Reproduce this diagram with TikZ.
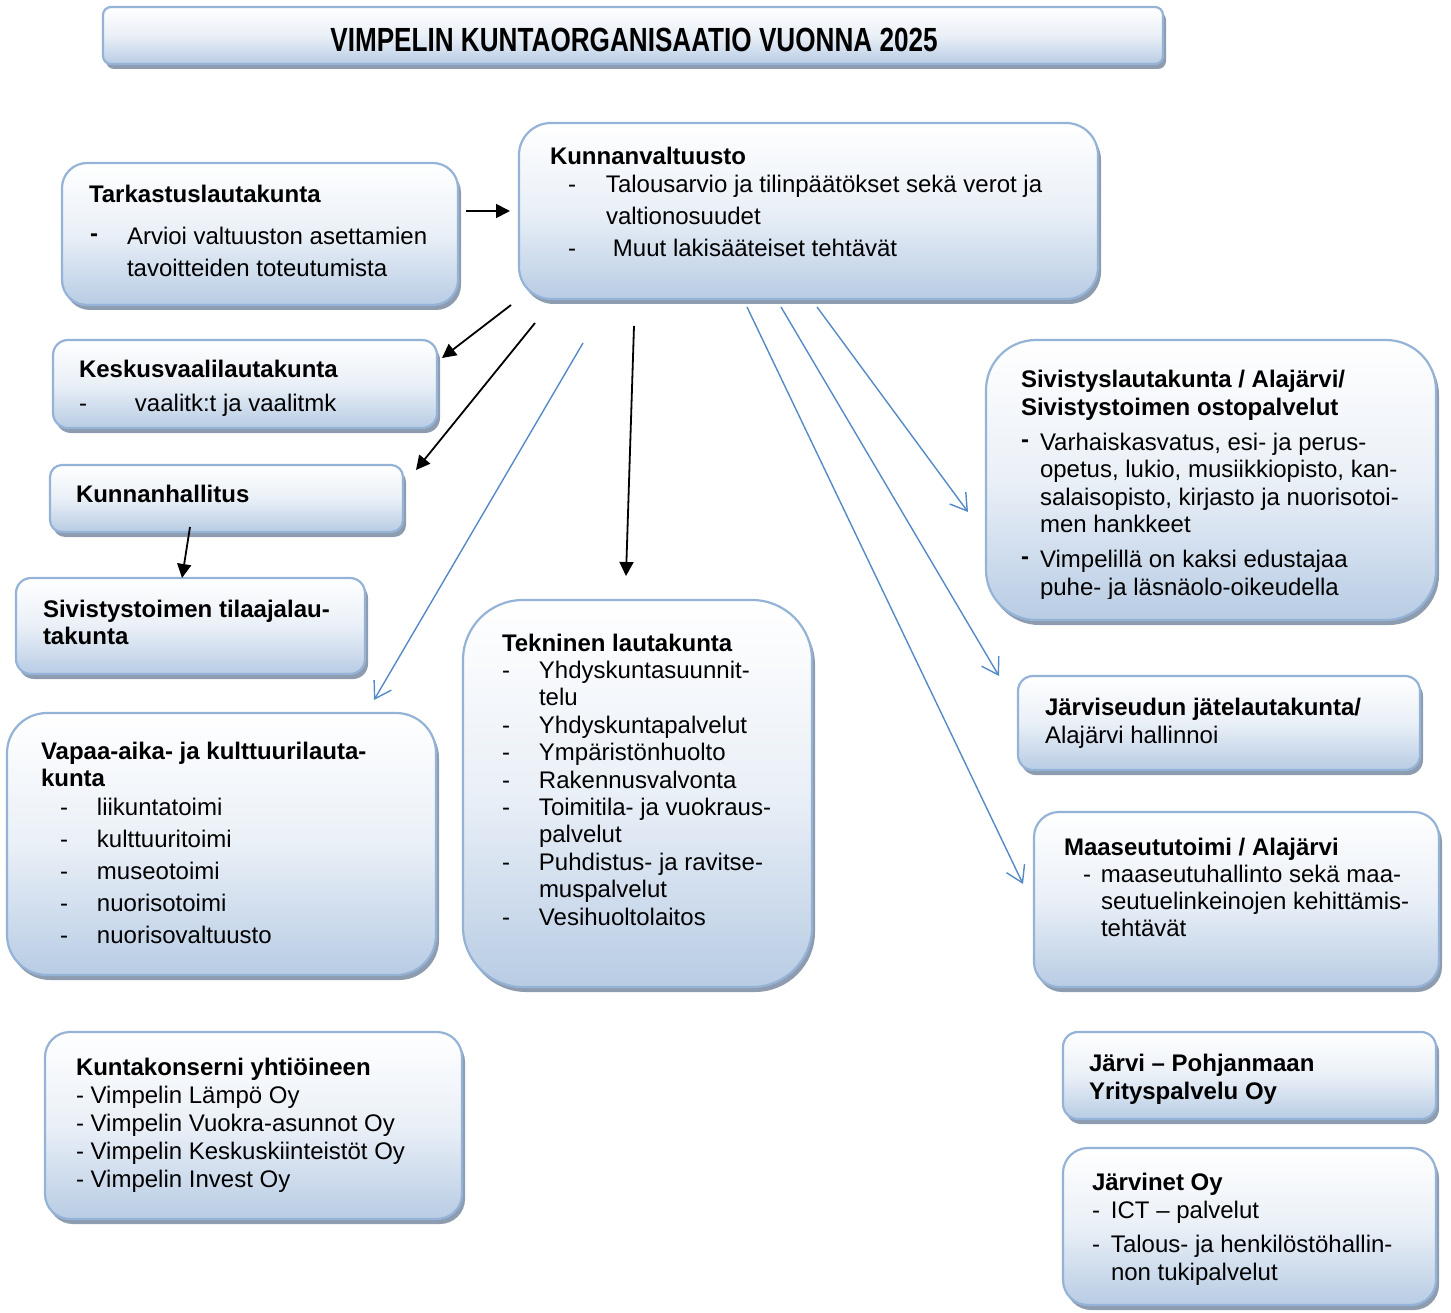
\documentclass[tikz,border=0pt]{standalone}
\usepackage{fontspec}
\setmainfont{Liberation Sans}
\newfontfamily\titlefont[FakeStretch=0.78]{Liberation Sans}
\usetikzlibrary{shadows,arrows.meta}
\definecolor{bordc}{RGB}{149,179,215}
\definecolor{fillc}{RGB}{184,204,228}
\definecolor{shadc}{RGB}{142,156,176}
\definecolor{bluc}{RGB}{84,138,198}
\newcommand\ds[1]{\makebox[#1][l]{-}}
\newcommand\bds[1]{\makebox[#1][l]{\raisebox{3pt}{\textbf{-}}}}
\newcommand\ind[1]{\hspace*{#1}}
\newcommand\orgbox[6]{\node[box,rounded corners=#6pt,minimum width={(#4-#2)*1pt},minimum height={(#5-#3)*1pt}] (#1) at ({(#2+#4)/2},{(#3+#5)/2}) {};}
\tikzset{
  box/.style={draw=bordc, line width=2.2pt, top color=white, bottom color=fillc, middle color=fillc!30!white,
    drop shadow={shadow xshift=3pt, shadow yshift=-5pt, fill=shadc, opacity=1},
    inner sep=0pt, outer sep=0pt},
  txt/.style={anchor=base west, inner sep=0pt, outer sep=0pt},
  blk/.style={line width=1.8pt, -{Triangle[length=14pt,width=14pt]}},
  blu/.style={draw=bluc, line width=1.4pt, -{Straight Barb[length=16pt,width=20pt]}}
}
\begin{document}
\begin{tikzpicture}[x=1pt,y=-1pt]
\useasboundingbox (0,0) rectangle (1451,1313);
% boxes
\orgbox{title}{103}{7}{1163}{64}{8}
\orgbox{tark}{62}{163}{458}{305}{25}
\orgbox{kv}{519}{123}{1098}{299}{32}
\orgbox{kesk}{53}{340}{437}{428}{15}
\orgbox{khall}{50}{465}{403}{532}{12}
\orgbox{stil}{16}{578}{365}{674}{15}
\orgbox{vapaa}{7}{713}{436}{975}{40}
\orgbox{tekn}{463}{600}{812}{987}{60}
\orgbox{sivl}{986}{340}{1436}{620}{50}
\orgbox{jate}{1018}{676}{1420}{770}{15}
\orgbox{maas}{1034}{812}{1439}{987}{25}
\orgbox{konserni}{45}{1032}{462}{1219}{25}
\orgbox{jpy}{1063}{1032}{1436}{1119}{15}
\orgbox{jnet}{1063}{1148}{1436}{1305}{25}
% texts
\node[inner sep=0pt] (title-t) at (634,40) {\titlefont\bfseries\fontsize{33.5}{36}\selectfont VIMPELIN KUNTAORGANISAATIO VUONNA 2025};
\node[txt] (tark-t) at (89,203) {\fontsize{24}{32}\selectfont\begin{tabular}[t]{@{}l@{}}
\textbf{Tarkastuslautakunta}\\[10pt]
\ind{1pt}\bds{37pt}Arvioi valtuuston asettamien\\
\ind{38pt}tavoitteiden toteutumista
\end{tabular}};
\node[txt] (kv-t) at (550,165) {\fontsize{24}{32}\selectfont\begin{tabular}[t]{@{}l@{}}
\textbf{Kunnanvaltuusto}\\[-4pt]
\ind{18pt}\ds{38pt}Talousarvio ja tilinpäätökset sekä verot ja\\
\ind{56pt}valtionosuudet\\
\ind{18pt}\ds{45pt}Muut lakisääteiset tehtävät
\end{tabular}};
\node[txt] (kesk-t) at (79,378) {\fontsize{24}{32}\selectfont\begin{tabular}[t]{@{}l@{}}
\textbf{Keskusvaalilautakunta}\\[1pt]
\ds{56pt}vaalitk:t ja vaalitmk
\end{tabular}};
\node[txt] (khall-t) at (76,502) {\fontsize{24}{32}\selectfont\textbf{Kunnanhallitus}};
\node[txt] (stil-t) at (43,617) {\fontsize{24}{27}\selectfont\begin{tabular}[t]{@{}l@{}}
\textbf{Sivistystoimen tilaajalau-}\\
\textbf{takunta}
\end{tabular}};
\node[txt] (vapaa-t) at (41,759) {\fontsize{24}{32}\selectfont\begin{tabular}[t]{@{}l@{}}
\textbf{Vapaa-aika- ja kulttuurilauta-}\\[-5pt]
\textbf{kunta}\\[-3pt]
\ind{19pt}\ds{37pt}liikuntatoimi\\
\ind{19pt}\ds{37pt}kulttuuritoimi\\
\ind{19pt}\ds{37pt}museotoimi\\
\ind{19pt}\ds{37pt}nuorisotoimi\\
\ind{19pt}\ds{37pt}nuorisovaltuusto
\end{tabular}};
\node[txt] (tekn-t) at (502,651) {\fontsize{24}{27.4}\selectfont\begin{tabular}[t]{@{}l@{}}
\textbf{Tekninen lautakunta}\\
\ds{37pt}Yhdyskuntasuunnit-\\
\ind{37pt}telu\\
\ds{37pt}Yhdyskuntapalvelut\\
\ds{37pt}Ympäristönhuolto\\
\ds{37pt}Rakennusvalvonta\\
\ds{37pt}Toimitila- ja vuokraus-\\
\ind{37pt}palvelut\\
\ds{37pt}Puhdistus- ja ravitse-\\
\ind{37pt}muspalvelut\\
\ds{37pt}Vesihuoltolaitos
\end{tabular}};
\begin{scope}
\clip (986,330) rectangle (1446,598);
\node[txt] (sivl-t) at (1021,388) {\fontsize{24}{27.5}\selectfont\begin{tabular}[t]{@{}l@{}}
\textbf{Sivistyslautakunta / Alajärvi/}\\
\textbf{Sivistystoimen ostopalvelut}\\[7.5pt]
\bds{19pt}Varhaiskasvatus, esi- ja perus-\\
\ind{19pt}opetus, lukio, musiikkiopisto, kan-\\
\ind{19pt}salaisopisto, kirjasto ja nuorisotoi-\\
\ind{19pt}men hankkeet\\[7.5pt]
\bds{19pt}Vimpelillä on kaksi edustajaa\\
\ind{19pt}puhe- ja läsnäolo-oikeudella
\end{tabular}};
\end{scope}
\node[txt] (jate-t) at (1045,715) {\fontsize{24}{28}\selectfont\begin{tabular}[t]{@{}l@{}}
\textbf{Järviseudun jätelautakunta/}\\
Alajärvi hallinnoi
\end{tabular}};
\node[txt] (maas-t) at (1064,855) {\fontsize{24}{27}\selectfont\begin{tabular}[t]{@{}l@{}}
\textbf{Maaseututoimi / Alajärvi}\\
\ind{19pt}\ds{18pt}maaseutuhallinto sekä maa-\\
\ind{37pt}seutuelinkeinojen kehittämis-\\
\ind{37pt}tehtävät
\end{tabular}};
\node[txt] (konserni-t) at (76,1075) {\fontsize{24}{28}\selectfont\begin{tabular}[t]{@{}l@{}}
\textbf{Kuntakonserni yhtiöineen}\\
- Vimpelin Lämpö Oy\\
- Vimpelin Vuokra-asunnot Oy\\
- Vimpelin Keskuskiinteistöt Oy\\
- Vimpelin Invest Oy
\end{tabular}};
\node[txt] (jpy-t) at (1089,1071) {\fontsize{24}{28}\selectfont\begin{tabular}[t]{@{}l@{}}
\textbf{Järvi – Pohjanmaan}\\
\textbf{Yrityspalvelu Oy}
\end{tabular}};
\node[txt] (jnet-t) at (1092,1190) {\fontsize{24}{28}\selectfont\begin{tabular}[t]{@{}l@{}}
\textbf{Järvinet Oy}\\
\ds{19pt}ICT – palvelut\\[6pt]
\ds{19pt}Talous- ja henkilöstöhallin-\\
\ind{19pt}non tukipalvelut
\end{tabular}};
% connector end points
\coordinate (tark-o) at (466,211);
\coordinate (kv-i) at (510,211);
\coordinate (kv-o1) at (511,305);
\coordinate (kesk-i) at (442,358);
\coordinate (kv-o2) at (535,323);
\coordinate (khall-i) at (416,470);
\coordinate (kv-o3) at (634,326);
\coordinate (tekn-i) at (626,576);
\coordinate (khall-o) at (190,527);
\coordinate (stil-i) at (182,578);
\coordinate (kv-o4) at (583,343);
\coordinate (vapaa-i) at (374,700);
\coordinate (kv-o5) at (817,307);
\coordinate (sivl-i) at (968,512);
\coordinate (kv-o6) at (781,307);
\coordinate (jate-i) at (999,676);
\coordinate (kv-o7) at (747,307);
\coordinate (maas-i) at (1023,884);
% connectors
\draw[blk] (tark-o) -- (kv-i);
\draw[blk] (kv-o1) -- (kesk-i);
\draw[blk] (kv-o2) -- (khall-i);
\draw[blk] (kv-o3) -- (tekn-i);
\draw[blk] (khall-o) -- (stil-i);
\draw[blu] (kv-o4) -- (vapaa-i);
\draw[blu] (kv-o5) -- (sivl-i);
\draw[blu] (kv-o6) -- (jate-i);
\draw[blu] (kv-o7) -- (maas-i);
\end{tikzpicture}
\end{document}
